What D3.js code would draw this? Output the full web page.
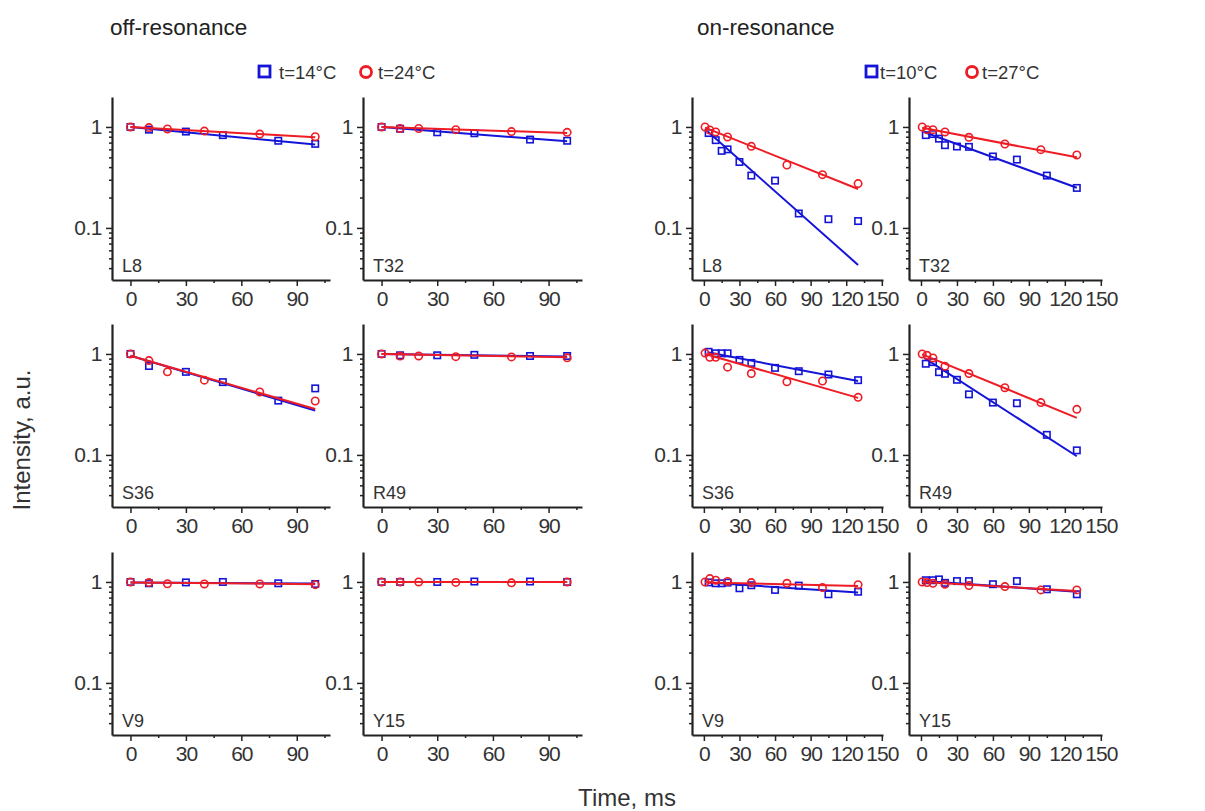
<!DOCTYPE html>
<html>
<head>
<meta charset="utf-8">
<script src="https://cdn.jsdelivr.net/npm/d3@7"></script>
<style>
  body { margin: 0; background: #fff; }
  svg { font-family: Arial, "Liberation Sans", sans-serif; }
  .domain { stroke: #222; stroke-width: 2.2; }
  .tick line { stroke: #222; stroke-width: 1.5; }
  .tick text { fill: #333; font-size: 21px; }
</style>
</head>
<body>
<div id="chart"></div>
<script>
// residues, one per row pair (left col / right col)
var residues = ["L8", "T32", "S36", "R49", "V9", "Y15"];

// delay times, ms
var offTimesBlue = [0, 10, 30, 50, 80, 100];
var offTimesRed = [0, 10, 20, 40, 70, 100];
var onTimesBlue = [4, 10, 15, 20, 30, 40, 60, 80, 105, 130];
var onTimesRed = [1, 5, 10, 20, 40, 70, 100, 130];

// off-resonance intensities (t=14°C blue, t=24°C red)
var offBlue = [
  [1.0, 0.94, 0.90, 0.83, 0.73, 0.68],
  [1.0, 0.96, 0.885, 0.866, 0.75, 0.73],
  [1.0, 0.76, 0.665, 0.526, 0.345, 0.456],
  [1.0, 0.97, 0.97, 0.98, 0.955, 0.955],
  [1.0, 0.97, 0.99, 1.0, 0.97, 0.955],
  [1.0, 1.0, 1.0, 1.01, 1.01, 1.0]
];
var offRed = [
  [1.0, 0.985, 0.955, 0.91, 0.85, 0.80],
  [1.0, 0.965, 0.965, 0.94, 0.90, 0.885],
  [1.0, 0.86, 0.665, 0.55, 0.42, 0.342],
  [1.0, 0.955, 0.955, 0.94, 0.935, 0.915],
  [1.0, 0.985, 0.96, 0.955, 0.955, 0.94],
  [1.0, 1.0, 1.0, 0.99, 0.98, 1.0]
];
// fit lines: value at start / end time
var offFitTimes = [0, 100];
var offBlueFit = [[1.0, 0.67], [1.0, 0.72], [0.96, 0.275], [1.0, 0.945], [0.99, 0.965], [1.0, 1.0]];
var offRedFit = [[1.0, 0.79], [1.0, 0.87], [0.96, 0.285], [1.0, 0.925], [0.99, 0.95], [1.0, 1.0]];

// on-resonance intensities (t=10°C blue, t=27°C red)
var onBlue = [
  [0.87, 0.74, 0.58, 0.60, 0.45, 0.33, 0.294, 0.139, 0.122, 0.117],
  [0.83, 0.85, 0.766, 0.66, 0.64, 0.635, 0.51, 0.475, 0.33, 0.249],
  [1.05, 1.015, 1.015, 1.015, 0.873, 0.815, 0.728, 0.675, 0.626, 0.55],
  [0.80, 0.83, 0.66, 0.636, 0.555, 0.398, 0.33, 0.325, 0.158, 0.111],
  [0.99, 0.97, 0.97, 0.985, 0.866, 0.927, 0.834, 0.92, 0.755, 0.80],
  [1.04, 1.04, 1.06, 0.98, 1.02, 1.02, 0.95, 1.02, 0.846, 0.755]
];
var onRed = [
  [1.0, 0.934, 0.892, 0.796, 0.643, 0.42, 0.337, 0.275],
  [1.0, 0.94, 0.94, 0.892, 0.79, 0.678, 0.596, 0.528],
  [1.02, 0.927, 0.927, 0.74, 0.64, 0.53, 0.54, 0.372],
  [1.0, 0.97, 0.913, 0.756, 0.64, 0.463, 0.33, 0.283],
  [1.0, 1.08, 1.04, 1.01, 0.985, 0.97, 0.88, 0.94],
  [1.0, 0.985, 0.97, 0.95, 0.92, 0.90, 0.834, 0.834]
];
var onFitTimesBlue = [3, 130];
var onFitTimesRed = [1, 130];
var onBlueFit = [[0.905, 0.043], [0.885, 0.25], [1.04, 0.54], [0.91, 0.097], [0.985, 0.785], [1.02, 0.80]];
var onRedFit = [[0.985, 0.243], [0.98, 0.50], [1.0, 0.367], [0.99, 0.233], [0.99, 0.91], [1.0, 0.815]];

var offXTicks = [0, 30, 60, 90], offXMinor = [15, 45, 75, 105];
var onXTicks = [0, 30, 60, 90, 120, 150], onXMinor = [15, 45, 75, 105, 135];

var blue = "#1414d8", red = "#ee1c24";

//==================
var width = 1205, height = 811;
var svg = d3.select("#chart").append("svg")
  .attr("width", width).attr("height", height);

var rowBottoms = [280, 507, 735];
var panelH = 183;

// minor log ticks
var yMinor = [];
[0.01, 0.1, 1].forEach(function(dec) {
  for (var k = 2; k <= 9; k++) {
    var v = dec * k;
    if (v > 0.0305 && v < 1.98) yMinor.push(v);
  }
});

function drawPanel(o) {
  var x = d3.scaleLinear().domain(o.xDomain).range([o.left, o.right]);
  var y = d3.scaleLog().domain([0.0305, 1.98]).range([o.bottom, o.bottom - panelH]);
  var g = svg.append("g");

  // minor ticks first
  g.append("g").attr("transform", "translate(0," + o.bottom + ")")
    .call(d3.axisBottom(x).tickValues(o.xMinor).tickSize(3).tickFormat(""))
    .call(function(s) { s.select(".domain").remove(); });
  g.append("g").attr("transform", "translate(" + o.left + ",0)")
    .call(d3.axisLeft(y).tickValues(yMinor).tickSize(3).tickFormat(""))
    .call(function(s) { s.select(".domain").remove(); });

  g.append("g").attr("transform", "translate(0," + o.bottom + ")")
    .call(d3.axisBottom(x).tickValues(o.xTicks).tickSize(6).tickSizeOuter(0).tickPadding(5))
    .selectAll("text").attr("letter-spacing", "-1px");
  g.append("g").attr("transform", "translate(" + o.left + ",0)")
    .call(d3.axisLeft(y).tickValues([0.1, 1]).tickSize(6).tickSizeOuter(0).tickPadding(4)
      .tickFormat(function(d) { return d === 1 ? "1" : "0.1"; }))
    .selectAll("text").attr("letter-spacing", "-0.5px");

  g.append("text").attr("x", o.left + 10).attr("y", o.bottom - 8)
    .attr("font-size", 18).attr("fill", "#333").text(o.name);

  var line = d3.line().x(function(d) { return x(d[0]); }).y(function(d) { return y(d[1]); });

  // blue series
  g.append("path").datum(d3.zip(o.fitTimesBlue, o.blueFit))
    .attr("d", line).attr("fill", "none").attr("stroke", blue).attr("stroke-width", 2);
  g.selectAll(".sq").data(d3.zip(o.timesBlue, o.blue)).enter().append("rect")
    .attr("x", function(d) { return x(d[0]) - 3.2; })
    .attr("y", function(d) { return y(d[1]) - 3.2; })
    .attr("width", 6.4).attr("height", 6.4)
    .attr("fill", "none").attr("stroke", blue).attr("stroke-width", 1.6);

  // red series
  g.append("path").datum(d3.zip(o.fitTimesRed, o.redFit))
    .attr("d", line).attr("fill", "none").attr("stroke", red).attr("stroke-width", 2);
  g.selectAll(".ci").data(d3.zip(o.timesRed, o.red)).enter().append("circle")
    .attr("cx", function(d) { return x(d[0]); })
    .attr("cy", function(d) { return y(d[1]); })
    .attr("r", 3.7)
    .attr("fill", "none").attr("stroke", red).attr("stroke-width", 1.6);
}

var offCols = [[112, 330], [363, 582]];
var onCols = [[692, 883], [909, 1102]];

residues.forEach(function(name, i) {
  var row = Math.floor(i / 2), col = i % 2;
  drawPanel({
    name: name, left: offCols[col][0], right: offCols[col][1], bottom: rowBottoms[row],
    xDomain: [-10, 108], xTicks: offXTicks, xMinor: offXMinor,
    timesBlue: offTimesBlue, blue: offBlue[i], timesRed: offTimesRed, red: offRed[i],
    fitTimesBlue: offFitTimes, blueFit: offBlueFit[i], fitTimesRed: offFitTimes, redFit: offRedFit[i]
  });
  drawPanel({
    name: name, left: onCols[col][0], right: onCols[col][1], bottom: rowBottoms[row],
    xDomain: [-10, 151], xTicks: onXTicks, xMinor: onXMinor,
    timesBlue: onTimesBlue, blue: onBlue[i], timesRed: onTimesRed, red: onRed[i],
    fitTimesBlue: onFitTimesBlue, blueFit: onBlueFit[i], fitTimesRed: onFitTimesRed, redFit: onRedFit[i]
  });
});

// titles
svg.append("text").attr("x", 110).attr("y", 35).attr("font-size", 22.5).attr("fill", "#222").text("off-resonance");
svg.append("text").attr("x", 697).attr("y", 35).attr("font-size", 22.5).attr("fill", "#222").text("on-resonance");

// legends
function legend(x0, labels) {
  var g = svg.append("g");
  g.append("rect").attr("x", x0).attr("y", 66).attr("width", 11).attr("height", 11)
    .attr("fill", "none").attr("stroke", blue).attr("stroke-width", 2.8);
  g.append("text").attr("x", labels.tx1).attr("y", 79).attr("font-size", 18.5).attr("fill", "#333").text(labels.t1);
  g.append("circle").attr("cx", labels.cx).attr("cy", 72).attr("r", 5.5)
    .attr("fill", "none").attr("stroke", red).attr("stroke-width", 2.8);
  g.append("text").attr("x", labels.tx2).attr("y", 79).attr("font-size", 18.5).attr("fill", "#333").text(labels.t2);
}
legend(259, { tx1: 279, t1: "t=14°C", cx: 366, tx2: 378, t2: "t=24°C" });
legend(866, { tx1: 880, t1: "t=10°C", cx: 972, tx2: 982, t2: "t=27°C" });

// axis titles
svg.append("text").attr("transform", "translate(30,440) rotate(-90)")
  .attr("text-anchor", "middle").attr("font-size", 24).attr("fill", "#333").text("Intensity, a.u.");
svg.append("text").attr("x", 627).attr("y", 806)
  .attr("text-anchor", "middle").attr("font-size", 24).attr("fill", "#333").text("Time, ms");
</script>
</body>
</html>
